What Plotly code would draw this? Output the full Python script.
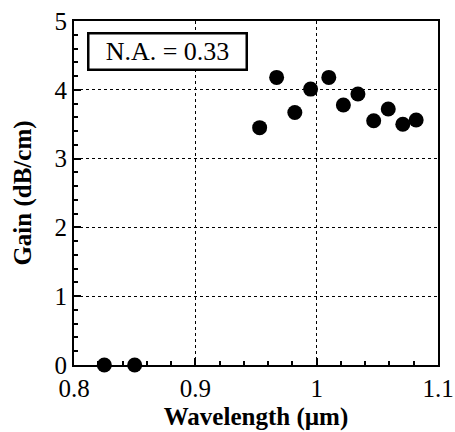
import plotly.graph_objects as go

wavelength_um = [0.825, 0.850, 0.953, 0.967, 0.982, 0.995, 1.010, 1.022, 1.034, 1.047, 1.059, 1.071, 1.082]
gain_db_cm = [0.0, 0.0, 3.45, 4.18, 3.67, 4.01, 4.18, 3.78, 3.94, 3.55, 3.72, 3.50, 3.56]

x_ticks = [0.8, 0.9, 1.0, 1.1]
x_ticklabels = ["0.8", "0.9", "1", "1.1"]
y_ticks = [0, 1, 2, 3, 4, 5]
label_text = "N.A. = 0.33"

FONT = "Liberation Serif, Times New Roman, serif"

fig = go.Figure()
fig.add_trace(go.Scatter(
    x=wavelength_um, y=gain_db_cm, mode="markers",
    marker=dict(color="black", size=15, line=dict(width=0)),
    cliponaxis=False, showlegend=False,
))

axis_common = dict(
    showline=True, linecolor="black", linewidth=2, mirror=True,
    showgrid=True, gridcolor="black", gridwidth=1, griddash="dot",
    zeroline=False, ticks="inside", tickcolor="black", tickwidth=2,
    ticklen=7, tickfont=dict(family=FONT, size=25, color="black"),
    automargin=False,
)

fig.update_xaxes(
    range=[0.8, 1.1], tickvals=x_ticks, ticktext=x_ticklabels,
    minor=dict(ticks="inside", dtick=0.02, tick0=0.8, ticklen=4, tickwidth=2, tickcolor="black", showgrid=False),
    title=dict(text="<b>Wavelength (µm)</b>", font=dict(family=FONT, size=25, color="black"), standoff=6),
    **axis_common,
)
fig.update_yaxes(
    range=[0, 5], tickvals=y_ticks,
    minor=dict(ticks="inside", dtick=0.2, tick0=0, ticklen=4, tickwidth=2, tickcolor="black", showgrid=False),
    title=dict(text="<b>Gain (dB/cm)</b>", font=dict(family=FONT, size=25, color="black"), standoff=16),
    **axis_common,
)

fig.add_annotation(
    text=label_text, xref="paper", yref="paper", x=0.258, y=0.911,
    xanchor="center", yanchor="middle",
    showarrow=False, font=dict(family=FONT, size=26, color="black"),
    bordercolor="black", borderwidth=2.5, borderpad=2, bgcolor="white",
    width=152, height=30,
)

fig.update_layout(
    width=455, height=432,
    margin=dict(l=74, r=17, t=21, b=67),
    paper_bgcolor="white", plot_bgcolor="white",
)

fig.write_html("out.html")
